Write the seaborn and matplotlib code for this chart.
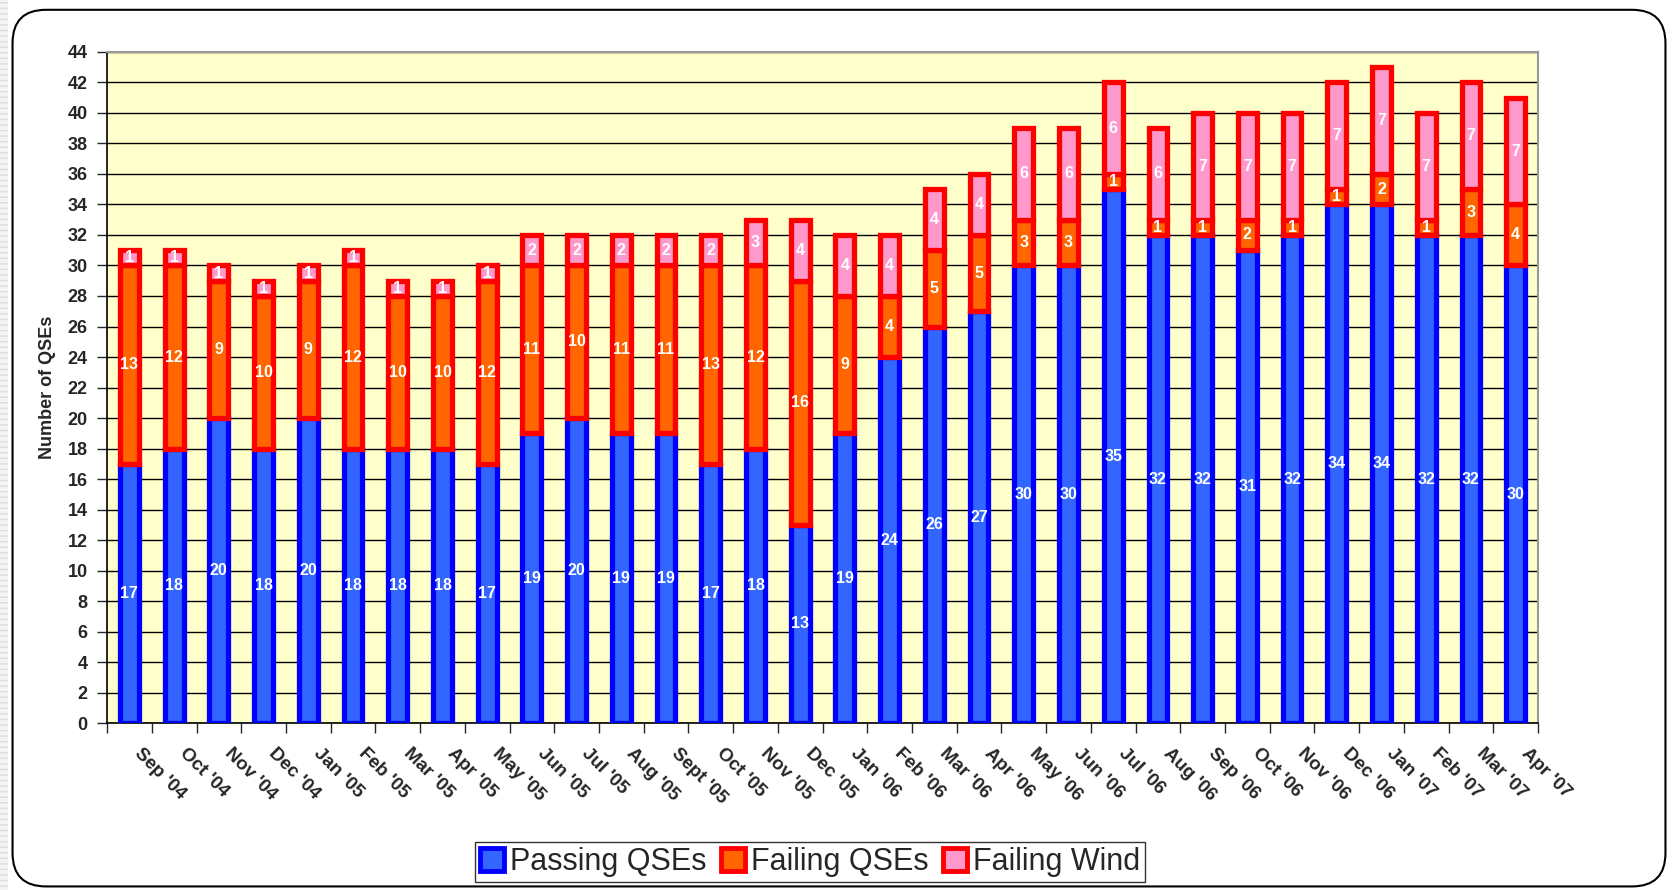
import matplotlib
matplotlib.use("Agg")
import matplotlib.pyplot as plt
import matplotlib.transforms as mtransforms
from matplotlib.patches import FancyBboxPatch, Patch, Rectangle
import seaborn as sns

# --- data ---
months = ["Sep '04", "Oct '04", "Nov '04", "Dec '04", "Jan '05", "Feb '05", "Mar '05", "Apr '05",
          "May '05", "Jun '05", "Jul '05", "Aug '05", "Sept '05", "Oct '05", "Nov '05", "Dec '05",
          "Jan '06", "Feb '06", "Mar '06", "Apr '06", "May '06", "Jun '06", "Jul '06", "Aug '06",
          "Sep '06", "Oct '06", "Nov '06", "Dec '06", "Jan '07", "Feb '07", "Mar '07", "Apr '07"]
passing = [17, 18, 20, 18, 20, 18, 18, 18, 17, 19, 20, 19, 19, 17, 18, 13,
           19, 24, 26, 27, 30, 30, 35, 32, 32, 31, 32, 34, 34, 32, 32, 30]
failing_qse = [13, 12, 9, 10, 9, 12, 10, 10, 12, 11, 10, 11, 11, 13, 12, 16,
               9, 4, 5, 5, 3, 3, 1, 1, 1, 2, 1, 1, 2, 1, 3, 4]
failing_wind = [1, 1, 1, 1, 1, 1, 1, 1, 1, 2, 2, 2, 2, 2, 3, 4,
                4, 4, 4, 4, 6, 6, 6, 6, 7, 7, 7, 7, 7, 7, 7, 7]

sns.set_style("white")
plt.rcParams['font.family'] = ['Liberation Sans', 'DejaVu Sans']

fig = plt.figure(figsize=(16.73, 8.90), dpi=100)
ax = fig.add_axes([0.064, 0.1876, 0.8553, 0.754])
ax.set_facecolor("#FFFFCC")

# outer rounded frame + striped slide edge on the left
fig.patches.append(Rectangle((0, 0), 0.005, 1, transform=fig.transFigure,
                             facecolor="#f4f4f4", edgecolor="#dddddd", hatch="---", lw=0))
fig.patches.append(FancyBboxPatch((0.0075, 0.004), 0.988, 0.985, transform=fig.transFigure,
                                  boxstyle="round,pad=0,rounding_size=0.02",
                                  facecolor="none", edgecolor="black", lw=1.5,
                                  mutation_aspect=1673 / 890))

bottom2 = [p + f for p, f in zip(passing, failing_qse)]
bw = 0.42
lw = 3.8
sns.barplot(x=months, y=passing, color="#3366FF", saturation=1, width=bw,
            edgecolor="#0000FF", linewidth=lw, ax=ax, zorder=3)
sns.barplot(x=months, y=failing_qse, bottom=passing, color="#FF6600", saturation=1, width=bw,
            edgecolor="#FF0000", linewidth=lw, ax=ax, zorder=3)
sns.barplot(x=months, y=failing_wind, bottom=bottom2, color="#FF99CC", saturation=1, width=bw,
            edgecolor="#FF0000", linewidth=lw, ax=ax, zorder=3)

for cont in ax.containers:
    ax.bar_label(cont, label_type="center", color="white", fontweight="bold", fontsize=11.5)

ax.set_ylim(0, 44)
ax.set_xlim(-0.5, len(months) - 0.5)
ax.set_yticks(range(0, 45, 2))
ax.yaxis.grid(True, color="black", lw=1, zorder=0)
ax.set_axisbelow(True)
ax.tick_params(axis="y", which="major", direction="out", length=7, width=1, pad=7,
               labelsize=13, left=True)
for t in ax.get_yticklabels():
    t.set_fontweight("bold")
ax.set_ylabel("Number of QSEs", fontsize=13, fontweight="bold", labelpad=8)
ax.set_xlabel("")

# ticks between categories, labels under bars (shifted like the Excel export)
ax.set_xticks([i - 0.5 for i in range(len(months) + 1)], minor=True)
ax.tick_params(axis="x", which="minor", direction="out", length=7, width=1, bottom=True)
ax.tick_params(axis="x", which="major", length=0, pad=16, labelsize=13.5)
offset = mtransforms.ScaledTranslation(0.14, 0, fig.dpi_scale_trans)
for t in ax.get_xticklabels():
    t.set_rotation(-45)
    t.set_ha("left")
    t.set_va("top")
    t.set_rotation_mode("anchor")
    t.set_fontweight("bold")
    t.set_transform(t.get_transform() + offset)

for side in ["left", "bottom"]:
    ax.spines[side].set_color("black")
    ax.spines[side].set_linewidth(1.2)
for side in ["top", "right"]:
    ax.spines[side].set_visible(True)
    ax.spines[side].set_color("#999999")
    ax.spines[side].set_linewidth(1.5)

handles = [Patch(facecolor="#3366FF", edgecolor="#0000FF", lw=3.5),
           Patch(facecolor="#FF6600", edgecolor="#FF0000", lw=3.5),
           Patch(facecolor="#FF99CC", edgecolor="#FF0000", lw=3.5)]
leg = fig.legend(handles, ["Passing QSEs", "Failing QSEs", "Failing Wind"], loc="center",
                 bbox_to_anchor=(810 / 1673, 1 - 862 / 890), ncol=3, fontsize=22, frameon=True,
                 fancybox=False, edgecolor="black", handlelength=0.8, handleheight=0.8,
                 handletextpad=0.2, columnspacing=0.45, borderpad=0.15, borderaxespad=0)
leg.get_frame().set_linewidth(1)

fig.savefig("out.png", dpi=100, facecolor="white")
